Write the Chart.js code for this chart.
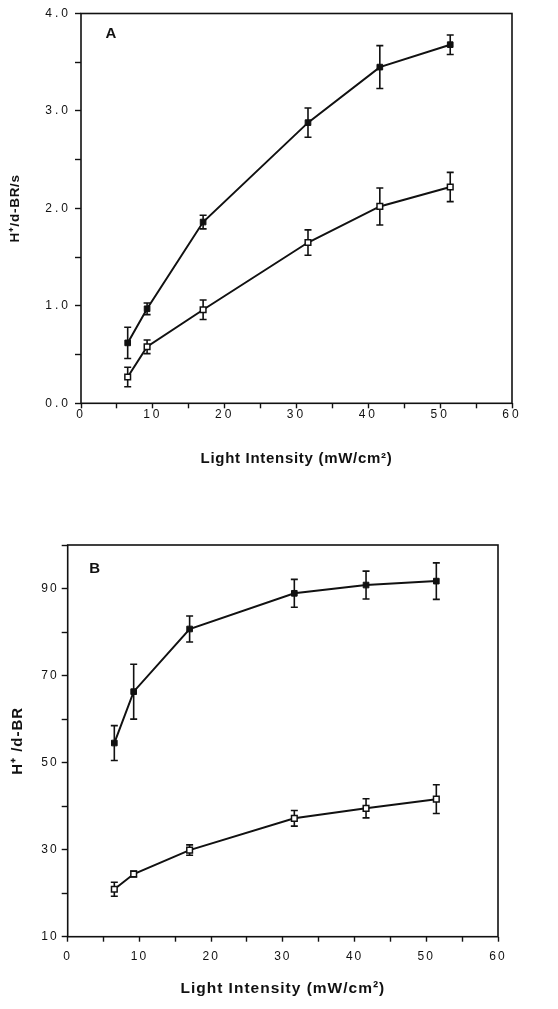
<!DOCTYPE html>
<html>
<head>
<meta charset="utf-8">
<script src="https://cdn.jsdelivr.net/npm/chart.js@4.4.1/dist/chart.umd.min.js"></script>
<style>
  html, body { margin: 0; padding: 0; background: #ffffff; }
  body { width: 558px; height: 1009px; position: relative; overflow: hidden; }
  .wrap { position: absolute; left: 0; }
</style>
</head>
<body>
<div class="wrap" style="top:0px;"><canvas id="chartA" width="558" height="480"></canvas></div>
<div class="wrap" style="top:480px;"><canvas id="chartB" width="558" height="529"></canvas></div>
<script>
// ---- data ----
const intensity = [6.5, 9.2, 17, 31.6, 41.6, 51.4];

// Panel A: H+/d-BR/s
const rateFilled    = [0.62, 0.97, 1.86, 2.88, 3.45, 3.68];
const rateFilledErr = [0.16, 0.06, 0.07, 0.15, 0.22, 0.10];
const rateOpen      = [0.27, 0.58, 0.96, 1.65, 2.02, 2.22];
const rateOpenErr   = [0.10, 0.07, 0.10, 0.13, 0.19, 0.15];

// Panel B: H+/d-BR
const yieldFilled    = [54.5, 66.3, 80.7, 88.9, 90.8, 91.7];
const yieldFilledErr = [4.0, 6.3, 3.0, 3.2, 3.2, 4.2];
const yieldOpen      = [20.9, 24.4, 29.9, 37.2, 39.5, 41.6];
const yieldOpenErr   = [1.6, 0.7, 1.2, 1.8, 2.2, 3.3];

const xTickLabels = ['0', '10', '20', '30', '40', '50', '60'];
const yTickLabelsA = ['0.0', '1.0', '2.0', '3.0', '4.0'];
const yTickLabelsB = ['10', '30', '50', '70', '90'];

const FONT = "'Liberation Sans', Arial, Helvetica, sans-serif";

function pts(xs, ys) { return xs.map((x, i) => ({ x: x, y: ys[i] })); }

// letter spacing: titles (drawn with grid layer), tick labels (drawn after datasets)
const spacingPlugin = {
  id: 'spacing',
  beforeDraw(chart, args, opts) { chart.ctx.letterSpacing = opts.title + 'px'; },
  beforeDatasetsDraw(chart) { chart.ctx.letterSpacing = '0px'; },
  afterDatasetsDraw(chart, args, opts) { chart.ctx.letterSpacing = opts.ticks + 'px'; },
  afterDraw(chart) { chart.ctx.letterSpacing = '0px'; }
};

// error bars drawn through the library's scales
const errorBarPlugin = {
  id: 'errorBars',
  beforeDatasetsDraw(chart) {
    const ctx = chart.ctx;
    const xs = chart.scales.x, ys = chart.scales.y;
    ctx.save();
    ctx.strokeStyle = '#111';
    ctx.lineWidth = 1.6;
    chart.data.datasets.forEach(ds => {
      ds.data.forEach((p, i) => {
        const e = ds.errors[i];
        const px = xs.getPixelForValue(p.x);
        const top = ys.getPixelForValue(p.y + e);
        const bot = ys.getPixelForValue(p.y - e);
        ctx.beginPath();
        ctx.moveTo(px, top); ctx.lineTo(px, bot);
        ctx.moveTo(px - 3.5, top); ctx.lineTo(px + 3.5, top);
        ctx.moveTo(px - 3.5, bot); ctx.lineTo(px + 3.5, bot);
        ctx.stroke();
      });
    });
    ctx.restore();
  }
};

// frame box + panel letter
const framePlugin = {
  id: 'frame',
  afterDraw(chart, args, opts) {
    const a = chart.chartArea, ctx = chart.ctx;
    ctx.save();
    ctx.letterSpacing = '0px';
    ctx.strokeStyle = '#111';
    ctx.lineWidth = 1.6;
    ctx.strokeRect(a.left, a.top, a.right - a.left, a.bottom - a.top);
    ctx.fillStyle = '#111';
    ctx.font = "bold 15px " + FONT;
    ctx.textAlign = 'center';
    ctx.textBaseline = 'middle';
    ctx.fillText(opts.letter, a.left + opts.dx, a.top + opts.dy);
    ctx.restore();
  }
};

function makeChart(id, cfg) {
  const dsFilled = {
    data: pts(intensity, cfg.filled), errors: cfg.filledErr,
    borderColor: '#111', borderWidth: 2, backgroundColor: '#111',
    pointStyle: 'rect', pointRadius: 4, pointBorderColor: '#111', pointBackgroundColor: '#111', pointBorderWidth: 1,
    showLine: true, tension: 0
  };
  const dsOpen = {
    data: pts(intensity, cfg.open), errors: cfg.openErr,
    borderColor: '#111', borderWidth: 2, backgroundColor: '#fff',
    pointStyle: 'rect', pointRadius: 4, pointBorderColor: '#111', pointBackgroundColor: '#fff', pointBorderWidth: 1.5,
    showLine: true, tension: 0
  };
  return new Chart(document.getElementById(id), {
    type: 'scatter',
    data: { datasets: [dsFilled, dsOpen] },
    plugins: [spacingPlugin, errorBarPlugin, framePlugin],
    options: {
      responsive: false,
      animation: false,
      events: [],
      layout: { padding: cfg.padding },
      plugins: {
        legend: { display: false },
        tooltip: { enabled: false },
        spacing: { title: cfg.titleSpacing, ticks: cfg.tickSpacing },
        frame: { letter: cfg.letter, dx: cfg.letterDx, dy: cfg.letterDy }
      },
      scales: {
        x: {
          type: 'linear', min: 0, max: 60,
          afterFit(s) { s.height = cfg.xHeight; },
          border: { display: false },
          grid: { drawOnChartArea: false, drawTicks: true, tickLength: 5, tickWidth: 1.4, tickColor: '#111' },
          ticks: {
            z: 1,
            stepSize: 5, padding: cfg.xTickPad, color: '#111', maxRotation: 0, autoSkip: false,
            font: { family: FONT, size: 12 },
            callback: v => (v % 10 === 0 ? xTickLabels[v / 10] : '')
          },
          title: {
            display: true, text: 'Light Intensity (mW/cm²)', color: '#111',
            font: { family: FONT, size: cfg.xTitleSize, weight: 'bold' },
            padding: { top: 0, bottom: cfg.xTitlePad }
          }
        },
        y: {
          type: 'linear', min: cfg.yMin, max: cfg.yMax,
          afterFit(s) { s.width = cfg.yWidth; },
          border: { display: false },
          grid: { drawOnChartArea: false, drawTicks: true, tickLength: 6, tickWidth: 1.4, tickColor: '#111' },
          ticks: {
            z: 1,
            stepSize: cfg.yStep, padding: cfg.yTickPad, color: '#111', autoSkip: false,
            font: { family: FONT, size: 12 },
            callback: cfg.yLabel
          },
          title: {
            display: true, text: cfg.yTitle, color: '#111',
            font: { family: FONT, size: cfg.yTitleSize, weight: 'bold' },
            padding: { top: cfg.yTitlePad, bottom: 0 }
          }
        }
      }
    }
  });
}

makeChart('chartA', {
  filled: rateFilled, filledErr: rateFilledErr, open: rateOpen, openErr: rateOpenErr,
  padding: { top: 13.5, right: 46, left: 0, bottom: 0 },
  xHeight: 480 - 403.3, yWidth: 81,
  xTitlePad: 12, yTitlePad: 7, xTitleSize: 15, yTitleSize: 13.5,
  xTickPad: -0.5, yTickPad: 4,
  titleSpacing: 0.7, tickSpacing: 3,
  yMin: 0, yMax: 4, yStep: 0.5,
  yLabel: v => (Math.abs(v - Math.round(v)) < 1e-9 ? yTickLabelsA[Math.round(v)] : ''),
  yTitle: 'H⁺/d-BR/s',
  letter: 'A', letterDx: 30, letterDy: 20
});

makeChart('chartB', {
  filled: yieldFilled, filledErr: yieldFilledErr, open: yieldOpen, openErr: yieldOpenErr,
  padding: { top: 65, right: 60, left: 0, bottom: 0 },
  xHeight: 529 - 456.7, yWidth: 67.7,
  xTitlePad: 10.5, yTitlePad: 9, xTitleSize: 15.5, yTitleSize: 15,
  xTickPad: 8, yTickPad: 3,
  titleSpacing: 1, tickSpacing: 2,
  yMin: 10, yMax: 100, yStep: 10,
  yLabel: v => ((v - 10) % 20 === 0 ? yTickLabelsB[(v - 10) / 20] : ''),
  yTitle: 'H⁺ /d-BR',
  letter: 'B', letterDx: 27, letterDy: 24
});
</script>
</body>
</html>
